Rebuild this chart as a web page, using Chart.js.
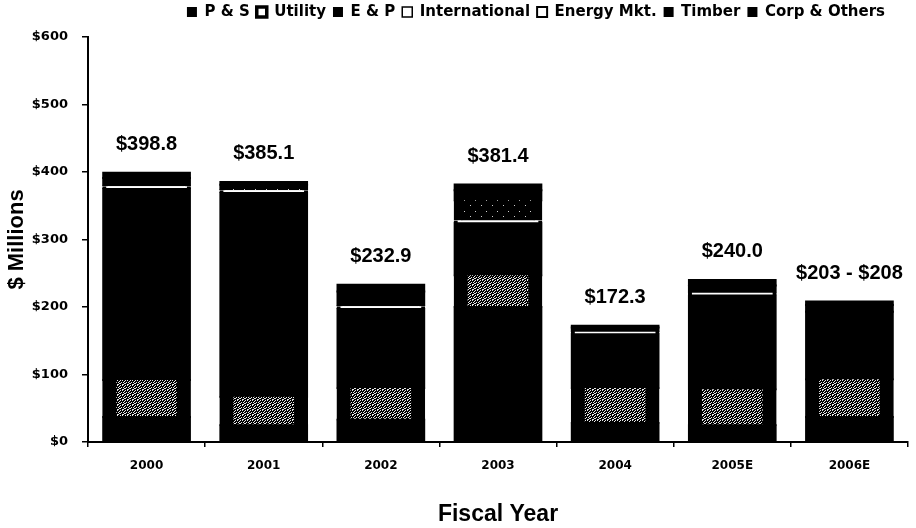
<!DOCTYPE html>
<html>
<head>
<meta charset="utf-8">
<title>Segment Results by Fiscal Year</title>
<script src="https://cdn.jsdelivr.net/npm/chart.js@4.4.1/dist/chart.umd.min.js"></script>
<style>
  html, body { margin: 0; padding: 0; background: #fff; }
  #wrap { width: 916px; height: 528px; }
</style>
</head>
<body>
<div id="wrap"><canvas id="c" width="916" height="528"></canvas></div>
<script>
// Fiscal years on the x axis
const fiscalYears = ['2000', '2001', '2002', '2003', '2004', '2005E', '2006E'];

// Segment values, $ millions (stacked bottom to top)
const pAndS         = [37, 25, 33, 200, 28, 25, 37];
const utility       = [55, 42, 47, 47, 52, 53, 56];
const eAndP         = [283, 302, 117, 77, 79.5, 139, 100];
const international = [4, 4, 4, 4, 4, 4, 0];
const energyMkt     = [2, 2, 2, 30, 1, 1, 0];
const timber        = [10, 6, 20, 15, 5, 10, 10];
const corpOthers    = [7.8, 4.1, 9.9, 8.4, 2.8, 8, 5];

// Low end of the guidance range for the forecast year (high end = stack total)
const forecastLow   = [null, null, null, null, null, null, 203];

// Y axis tick labels, $0 .. $600 in steps of 100
const yTickLabels = ['$0', '$100', '$200', '$300', '$400', '$500', '$600'];

const canvas = document.getElementById('c');
const ctx = canvas.getContext('2d');

// Speckled fills for the dotted segments
function speckle(size, dots, ink) {
  const tile = document.createElement('canvas');
  tile.width = tile.height = size;
  const g = tile.getContext('2d');
  g.fillStyle = '#000';
  g.fillRect(0, 0, size, size);
  g.fillStyle = ink;
  dots.forEach(([x, y]) => g.fillRect(x, y, 1, 1));
  return ctx.createPattern(tile, 'repeat');
}
const denseDots = speckle(5, [[0,0],[2,0],[4,1],[1,2],[3,2],[0,3],[4,3],[2,4],[3,4]], '#e6e6e6');
const sparseDots = speckle(11, [[2,2],[8,7]], '#d0d0d0');

// Legend swatches: fill and outline weight per series
const swatches = [
  { fill: '#000', line: 0 },
  { fill: '#fff', line: 3.5 },
  { fill: '#000', line: 0 },
  { fill: '#fff', line: 1.5 },
  { fill: '#fff', line: 2 },
  { fill: '#000', line: 0 },
  { fill: '#000', line: 0 }
];

const seriesList = [pAndS, utility, eAndP, international, energyMkt, timber, corpOthers];
const totals = fiscalYears.map((_, i) => seriesList.reduce((s, arr) => s + arr[i], 0));

// Stack totals written above each column
const totalLabels = {
  id: 'totalLabels',
  afterDatasetsDraw(chart) {
    const { ctx: c, scales: { x, y } } = chart;
    c.save();
    c.font = 'bold 20px "Liberation Sans", Arial, sans-serif';
    c.fillStyle = '#000';
    c.textAlign = 'center';
    c.textBaseline = 'alphabetic';
    fiscalYears.forEach((yr, i) => {
      const total = totals[i];
      const text = forecastLow[i] != null
        ? '$' + forecastLow[i] + ' - $' + Math.round(total)
        : '$' + total.toFixed(1);
      c.fillText(text, x.getPixelForValue(i), y.getPixelForValue(total) - 23);
    });
    c.restore();
  }
};

// Nudge the legend row so it sits toward the right of the header
const legendNudge = {
  id: 'legendNudge',
  afterLayout(chart) {
    if (chart.legend) chart.legend.right -= 16;
  }
};

Chart.defaults.color = '#000';

// Every segment is inflated by a pixel so neighbouring blocks join without seams
const seg = (label, data, bg, extra) => Object.assign({
  label, data, backgroundColor: bg, borderWidth: 0, inflateAmount: 1, stack: 's'
}, extra || {});

new Chart(ctx, {
  type: 'bar',
  data: {
    labels: fiscalYears,
    datasets: [
      seg('P & S', pAndS, '#000'),
      seg('Utility', utility, denseDots, {
        borderColor: '#000', borderWidth: { left: 14, right: 14, top: 1, bottom: 1 }, borderSkipped: false
      }),
      seg('E & P', eAndP, '#000'),
      seg('International', international, '#fff', {
        borderColor: '#000', borderWidth: { left: 4, right: 4, top: 0, bottom: 0 }, borderSkipped: false
      }),
      seg('Energy Mkt.', energyMkt, sparseDots, {
        borderColor: '#000', borderWidth: { left: 7, right: 7, top: 0, bottom: 0 }, borderSkipped: false
      }),
      seg('Timber', timber, '#000'),
      seg('Corp & Others', corpOthers, '#000')
    ]
  },
  options: {
    responsive: false,
    animation: false,
    devicePixelRatio: 1,
    datasets: { bar: { barPercentage: 0.74, categoryPercentage: 1 } },
    layout: { padding: { top: -2.5, right: 8, bottom: 0, left: 0 } },
    plugins: {
      tooltip: { enabled: false },
      legend: {
        position: 'top',
        align: 'end',
        labels: {
          boxWidth: 10,
          boxHeight: 10,
          padding: 7,
          color: '#000',
          font: { family: '"DejaVu Sans", sans-serif', weight: 'bold', size: 15 },
          generateLabels(chart) {
            const items = Chart.defaults.plugins.legend.labels.generateLabels(chart);
            items.forEach((it, i) => {
              it.fillStyle = swatches[i].fill;
              it.strokeStyle = '#000';
              it.lineWidth = swatches[i].line;
            });
            return items;
          }
        }
      }
    },
    scales: {
      x: {
        stacked: true,
        grid: { display: true, drawOnChartArea: false, drawTicks: true, tickLength: 5, color: '#000', lineWidth: 1.5, offset: true },
        border: { display: true, color: '#000', width: 2 },
        ticks: {
          padding: 12,
          color: '#000',
          font: { family: '"DejaVu Sans", sans-serif', weight: 'bold', size: 12 }
        },
        title: {
          display: true,
          text: 'Fiscal Year',
          color: '#000',
          padding: { top: 0, bottom: 0 },
          font: { family: '"Liberation Sans", Arial, sans-serif', weight: 'bold', size: 23 }
        },
        afterFit(s) { s.height = 86; }
      },
      spacer: {
        type: 'category',
        axis: 'x',
        position: 'top',
        labels: [],
        grid: { display: false },
        border: { display: false },
        ticks: { display: false },
        afterFit(s) { s.height = 7.5; }
      },
      y: {
        stacked: true,
        min: 0,
        max: 600,
        ticks: {
          stepSize: 100,
          padding: 14,
          color: '#000',
          font: { family: '"DejaVu Sans", sans-serif', weight: 'bold', size: 13 },
          callback: (v) => yTickLabels[Math.round(v / 100)]
        },
        grid: { display: true, drawOnChartArea: false, drawTicks: true, tickLength: 6, color: '#000', lineWidth: 1.5 },
        border: { display: true, color: '#000', width: 2 },
        title: {
          display: true,
          text: '$ Millions',
          color: '#000',
          padding: { top: 4, bottom: 0 },
          font: { family: '"Liberation Sans", Arial, sans-serif', weight: 'bold', size: 22 }
        },
        afterFit(s) { s.width = 88; }
      }
    }
  },
  plugins: [totalLabels, legendNudge]
});
</script>
</body>
</html>
